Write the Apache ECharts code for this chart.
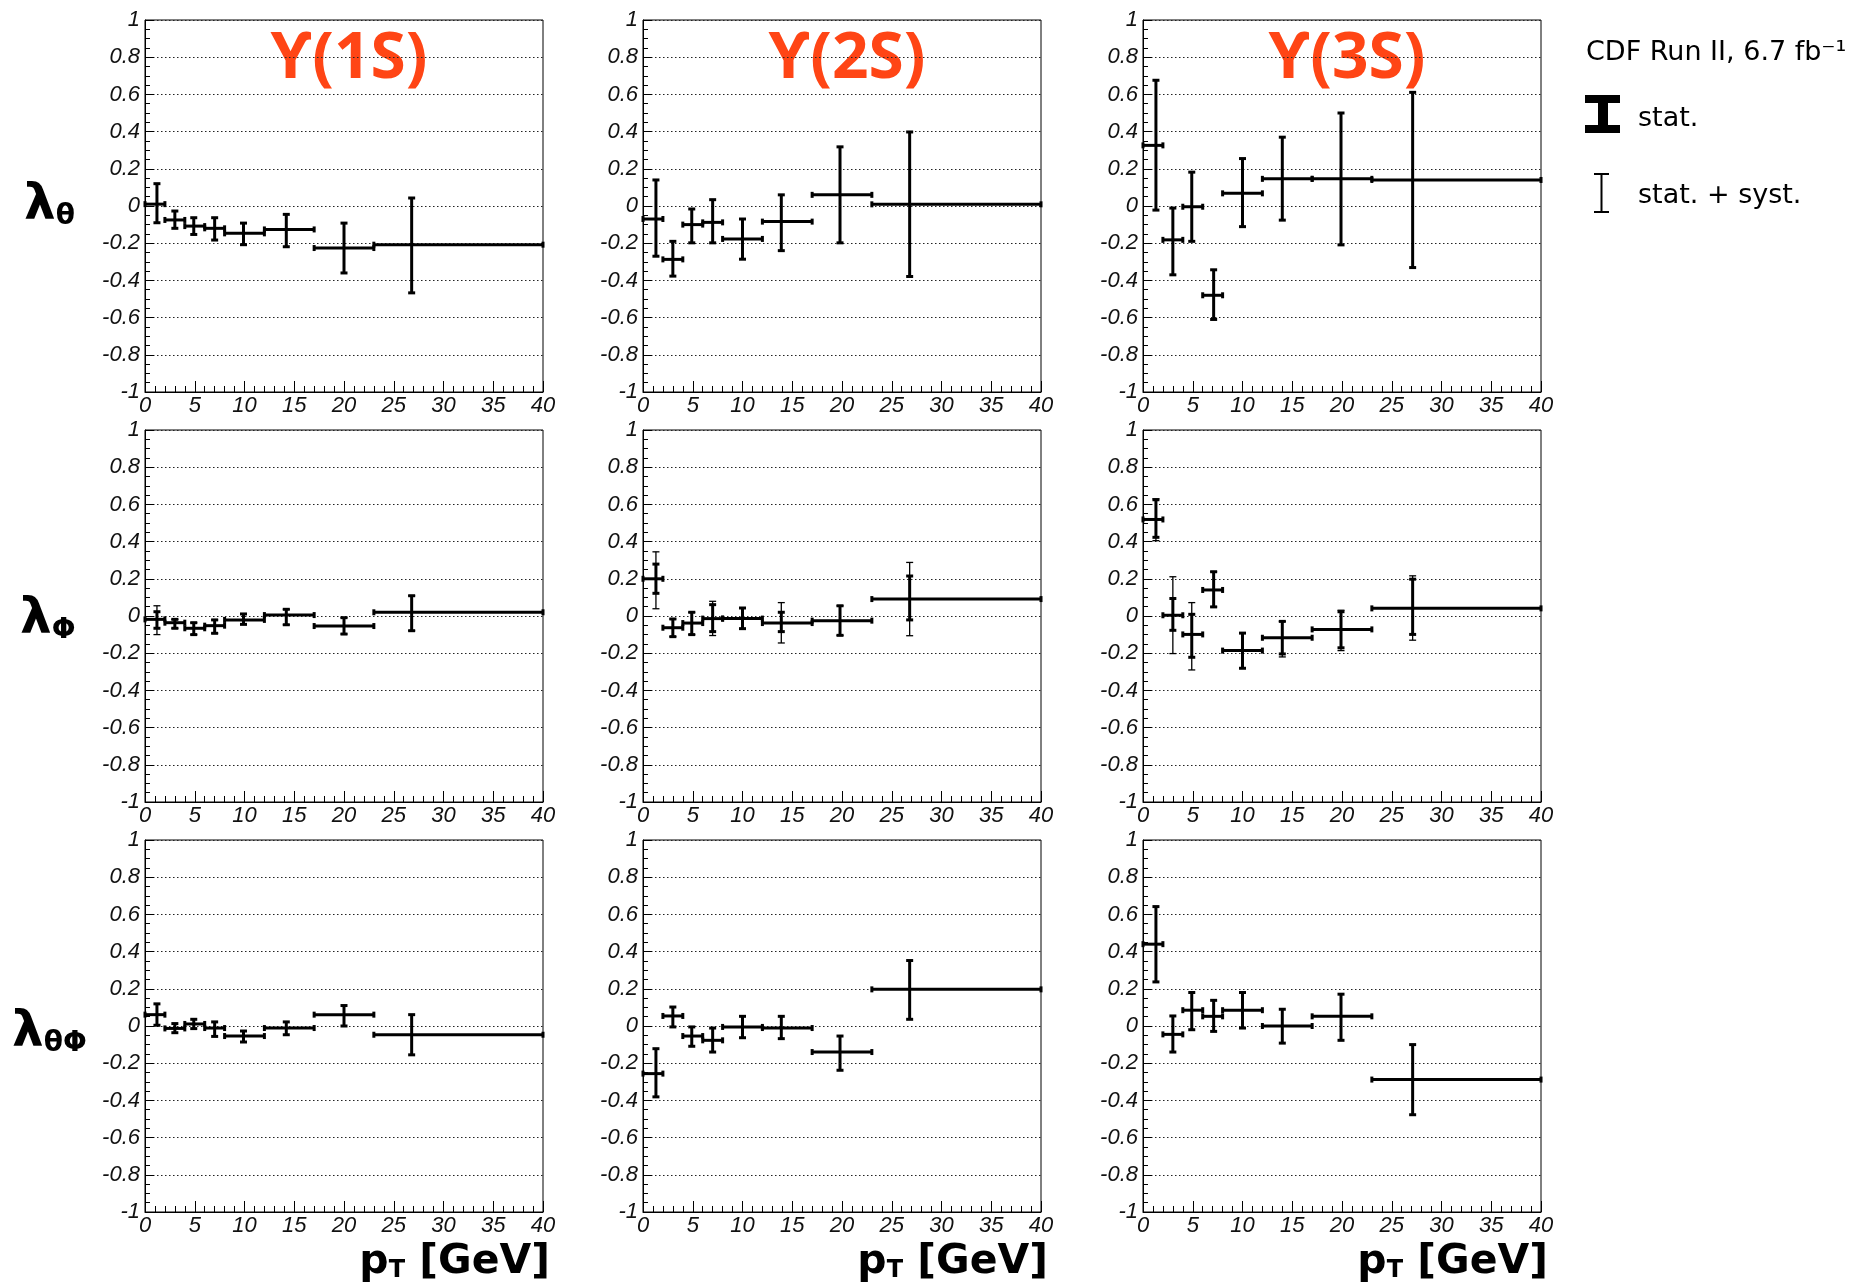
<!DOCTYPE html>
<html>
<head>
<meta charset="utf-8">
<title>CDF Upsilon polarization vs pT</title>
<script src="https://cdn.jsdelivr.net/npm/echarts@6/dist/echarts.min.js"></script>
<style>
html, body { margin: 0; padding: 0; background: #fff; }
#chart { width: 1859px; height: 1284px; }
</style>
</head>
<body>
<div id="chart"></div>
<script>
// pT bin edges (GeV), shared by all panels
var ptEdges = [0, 2, 4, 6, 8, 12, 17, 23, 40];
// mean pT of each bin
var ptMean1S = [1.2, 3.0, 4.9, 7.0, 9.9, 14.2, 20.0, 26.8];
var ptMean2S = [1.3, 3.0, 4.9, 7.0, 10.0, 13.9, 19.8, 26.8];
var ptMean3S = [1.3, 3.0, 4.9, 7.1, 10.0, 14.0, 19.9, 27.1];

// lambda_theta
var lamTh1S = [0.01, -0.075, -0.108, -0.12, -0.147, -0.126, -0.226, -0.208];
var lamTh1SStat = [[-0.09, 0.12], [-0.12, -0.027], [-0.153, -0.063], [-0.183, -0.063], [-0.208, -0.092], [-0.219, -0.045], [-0.36, -0.092], [-0.467, 0.043]];
var lamTh2S = [-0.07, -0.287, -0.10, -0.088, -0.177, -0.084, 0.06, 0.009];
var lamTh2SStat = [[-0.27, 0.14], [-0.377, -0.19], [-0.198, -0.016], [-0.198, 0.034], [-0.286, -0.07], [-0.24, 0.06], [-0.198, 0.318], [-0.379, 0.398]];
var lamTh3S = [0.326, -0.182, -0.004, -0.48, 0.068, 0.146, 0.146, 0.14];
var lamTh3SStat = [[-0.022, 0.676], [-0.37, -0.011], [-0.19, 0.182], [-0.61, -0.343], [-0.111, 0.255], [-0.076, 0.37], [-0.209, 0.5], [-0.331, 0.611]];

// lambda_phi
var lamPh1S = [-0.018, -0.036, -0.066, -0.052, -0.021, 0.005, -0.054, 0.02];
var lamPh1SStat = [[-0.066, 0.023], [-0.066, -0.018], [-0.10, -0.036], [-0.093, -0.021], [-0.045, 0.011], [-0.047, 0.036], [-0.097, -0.009], [-0.079, 0.109]];
var lamPh1STot = [[-0.10, 0.055], [-0.066, -0.018], [-0.10, -0.036], [-0.093, -0.021], [-0.045, 0.011], [-0.047, 0.036], [-0.097, -0.009], [-0.079, 0.109]];
var lamPh2S = [0.20, -0.063, -0.038, -0.014, -0.014, -0.038, -0.025, 0.091];
var lamPh2SStat = [[0.122, 0.279], [-0.111, -0.016], [-0.10, 0.02], [-0.084, 0.061], [-0.068, 0.043], [-0.084, 0.02], [-0.104, 0.055], [-0.021, 0.215]];
var lamPh2STot = [[0.039, 0.345], [-0.111, -0.016], [-0.10, 0.02], [-0.105, 0.079], [-0.068, 0.043], [-0.145, 0.072], [-0.104, 0.055], [-0.106, 0.288]];
var lamPh3S = [0.519, 0.004, -0.099, 0.14, -0.186, -0.117, -0.072, 0.041];
var lamPh3SStat = [[0.423, 0.625], [-0.077, 0.094], [-0.222, 0.009], [0.049, 0.238], [-0.281, -0.092], [-0.204, -0.029], [-0.171, 0.023], [-0.099, 0.198]];
var lamPh3STot = [[0.405, 0.63], [-0.202, 0.211], [-0.29, 0.072], [0.049, 0.238], [-0.281, -0.092], [-0.22, -0.029], [-0.186, 0.031], [-0.13, 0.216]];

// lambda_theta_phi
var lamTP1S = [0.061, -0.013, 0.011, -0.011, -0.054, -0.011, 0.061, -0.047];
var lamTP1SStat = [[0.004, 0.119], [-0.036, 0.013], [-0.014, 0.036], [-0.056, 0.022], [-0.086, -0.027], [-0.047, 0.022], [0.0, 0.11], [-0.155, 0.061]];
var lamTP2S = [-0.256, 0.054, -0.054, -0.077, -0.005, -0.011, -0.14, 0.197];
var lamTP2SStat = [[-0.381, -0.122], [-0.005, 0.102], [-0.109, -0.005], [-0.14, -0.011], [-0.063, 0.052], [-0.068, 0.052], [-0.238, -0.054], [0.036, 0.352]];
var lamTP3S = [0.44, -0.045, 0.085, 0.052, 0.085, 0.0, 0.052, -0.288];
var lamTP3SStat = [[0.237, 0.642], [-0.14, 0.054], [-0.02, 0.18], [-0.029, 0.138], [-0.011, 0.18], [-0.092, 0.09], [-0.077, 0.171], [-0.477, -0.1]];

var stateNames = ['ϒ(1S)', 'ϒ(2S)', 'ϒ(3S)'];

// row by row, left to right
var panels = [
    { mean: ptMean1S, val: lamTh1S, stat: lamTh1SStat, tot: null },
    { mean: ptMean2S, val: lamTh2S, stat: lamTh2SStat, tot: null },
    { mean: ptMean3S, val: lamTh3S, stat: lamTh3SStat, tot: null },
    { mean: ptMean1S, val: lamPh1S, stat: lamPh1SStat, tot: lamPh1STot },
    { mean: ptMean2S, val: lamPh2S, stat: lamPh2SStat, tot: lamPh2STot },
    { mean: ptMean3S, val: lamPh3S, stat: lamPh3SStat, tot: lamPh3STot },
    { mean: ptMean1S, val: lamTP1S, stat: lamTP1SStat, tot: null },
    { mean: ptMean2S, val: lamTP2S, stat: lamTP2SStat, tot: null },
    { mean: ptMean3S, val: lamTP3S, stat: lamTP3SStat, tot: null }
];

var colLeft = [145, 643, 1143];
var rowTop = [20, 430, 840];
var plotW = 398, plotH = 372;

var labelFont = { fontFamily: 'Liberation Sans', fontStyle: 'italic', fontSize: 22, color: '#111' };

// draws bin-width bar + stat (thick) and stat+syst (thin) error bars
function errorBars(p) {
    return function(params, api) {
        var i = params.dataIndex;
        var x = p.mean[i], y = p.val[i];
        var c = api.coord([x, y]);
        var l = api.coord([ptEdges[i], y]);
        var r = api.coord([ptEdges[i + 1], y]);
        var kids = [];
        var thick = { stroke: '#000', lineWidth: 3 };
        var thin = { stroke: '#000', lineWidth: 1.3 };

        function seg(x1, y1, x2, y2, st) {
            kids.push({ type: 'line', shape: { x1: x1, y1: y1, x2: x2, y2: y2 }, style: st });
        }
        seg(l[0], c[1], r[0], c[1], thick);
        seg(l[0], c[1] - 3, l[0], c[1] + 3, thick);
        seg(r[0], c[1] - 3, r[0], c[1] + 3, thick);
        if (p.tot) {
            var tLo = api.coord([x, p.tot[i][0]]);
            var tHi = api.coord([x, p.tot[i][1]]);
            seg(c[0], tLo[1], c[0], tHi[1], thin);
            seg(c[0] - 3.5, tLo[1], c[0] + 3.5, tLo[1], thin);
            seg(c[0] - 3.5, tHi[1], c[0] + 3.5, tHi[1], thin);
        }
        var sLo = api.coord([x, p.stat[i][0]]);
        var sHi = api.coord([x, p.stat[i][1]]);
        seg(c[0], sLo[1], c[0], sHi[1], thick);
        seg(c[0] - 3.5, sLo[1], c[0] + 3.5, sLo[1], thick);
        seg(c[0] - 3.5, sHi[1], c[0] + 3.5, sHi[1], thick);
        return { type: 'group', children: kids };
    };
}

var grids = [], xAxes = [], yAxes = [], series = [];
panels.forEach(function(p, k) {
    var row = Math.floor(k / 3), col = k % 3;
    grids.push({
        left: colLeft[col], top: rowTop[row], width: plotW, height: plotH,
        show: true, borderColor: '#000', borderWidth: 1, backgroundColor: 'transparent'
    });
    xAxes.push({
        gridIndex: k, type: 'value', min: 0, max: 40, interval: 5,
        axisLine: { onZero: false, lineStyle: { color: '#000', width: 1 } },
        axisTick: { inside: true, length: 11, lineStyle: { color: '#000' } },
        minorTick: { show: true, splitNumber: 5, length: 6, lineStyle: { color: '#000' } },
        axisLabel: Object.assign({ margin: 3 }, labelFont),
        splitLine: { show: false }
    });
    yAxes.push({
        gridIndex: k, type: 'value', min: -1, max: 1, interval: 0.2,
        axisLine: { show: true, onZero: false, lineStyle: { color: '#000', width: 1 } },
        axisTick: { inside: true, length: 9, lineStyle: { color: '#000' } },
        minorTick: { show: true, splitNumber: 4, length: 5, lineStyle: { color: '#000' } },
        axisLabel: Object.assign({ margin: 5 }, labelFont),
        splitLine: { show: true, lineStyle: { color: '#222', width: 1.1, type: [1.5, 2.5] } }
    });
    series.push({
        type: 'custom',
        xAxisIndex: k,
        yAxisIndex: k,
        data: p.val.map(function(v, i) { return [p.mean[i], v]; }),
        encode: { x: 0, y: 1 },
        renderItem: errorBars(p),
        silent: true
    });
});

var graphics = [];
// state titles
stateNames.forEach(function(name, col) {
    graphics.push({
        type: 'text', x: colLeft[col] + plotW / 2 + 5, y: 60,
        style: {
            text: name, fill: '#ff4515', align: 'center', verticalAlign: 'middle',
            fontFamily: 'Noto Sans', fontWeight: 'bold', fontSize: 64
        }
    });
});

// row labels
function greekLabel(sub, x, y) {
    return {
        type: 'text', x: x, y: y,
        style: {
            text: '{l|λ}{s|' + sub + '}', verticalAlign: 'middle', fill: '#000',
            rich: {
                l: { fontFamily: 'DejaVu Sans', fontWeight: 'bold', fontSize: 50, verticalAlign: 'bottom' },
                s: { fontFamily: 'DejaVu Sans', fontWeight: 'bold', fontSize: 28, verticalAlign: 'bottom' }
            }
        }
    };
}
graphics.push(greekLabel('θ', 24, 206));
graphics.push(greekLabel('Φ', 20, 620));
graphics.push(greekLabel('θΦ', 12, 1033));

// pT axis titles
colLeft.forEach(function(left) {
    graphics.push({
        type: 'text', x: left + plotW + 7, y: 1262,
        style: {
            text: '{p|p}{t|T}{g| [GeV]}', align: 'right', verticalAlign: 'middle', fill: '#000',
            rich: {
                p: { fontFamily: 'DejaVu Sans', fontWeight: 'bold', fontSize: 41, verticalAlign: 'bottom' },
                t: { fontFamily: 'DejaVu Sans', fontWeight: 'bold', fontSize: 24, verticalAlign: 'bottom' },
                g: { fontFamily: 'DejaVu Sans', fontWeight: 'bold', fontSize: 41, verticalAlign: 'bottom' }
            }
        }
    });
});

// legend block
graphics.push({
    type: 'text', x: 1586, y: 53,
    style: { text: 'CDF Run II, 6.7 fb⁻¹', fill: '#000', verticalAlign: 'middle', fontFamily: 'DejaVu Sans', fontSize: 27 }
});
graphics.push({ type: 'rect', shape: { x: 1585, y: 95, width: 35, height: 8 }, style: { fill: '#000' } });
graphics.push({ type: 'rect', shape: { x: 1585, y: 125, width: 35, height: 8 }, style: { fill: '#000' } });
graphics.push({ type: 'rect', shape: { x: 1598, y: 95, width: 10, height: 38 }, style: { fill: '#000' } });
graphics.push({
    type: 'text', x: 1638, y: 119,
    style: { text: 'stat.', fill: '#000', verticalAlign: 'middle', fontFamily: 'DejaVu Sans', fontSize: 27 }
});
graphics.push({ type: 'line', shape: { x1: 1601.5, y1: 173, x2: 1601.5, y2: 213 }, style: { stroke: '#000', lineWidth: 2 } });
graphics.push({ type: 'line', shape: { x1: 1594, y1: 174, x2: 1609, y2: 174 }, style: { stroke: '#000', lineWidth: 2 } });
graphics.push({ type: 'line', shape: { x1: 1594, y1: 212, x2: 1609, y2: 212 }, style: { stroke: '#000', lineWidth: 2 } });
graphics.push({
    type: 'text', x: 1638, y: 196,
    style: { text: 'stat. + syst.', fill: '#000', verticalAlign: 'middle', fontFamily: 'DejaVu Sans', fontSize: 27 }
});

var chart = echarts.init(document.getElementById('chart'), null, { renderer: 'canvas' });
chart.setOption({
    animation: false,
    backgroundColor: '#fff',
    grid: grids,
    xAxis: xAxes,
    yAxis: yAxes,
    series: series,
    graphic: graphics
});
</script>
</body>
</html>
